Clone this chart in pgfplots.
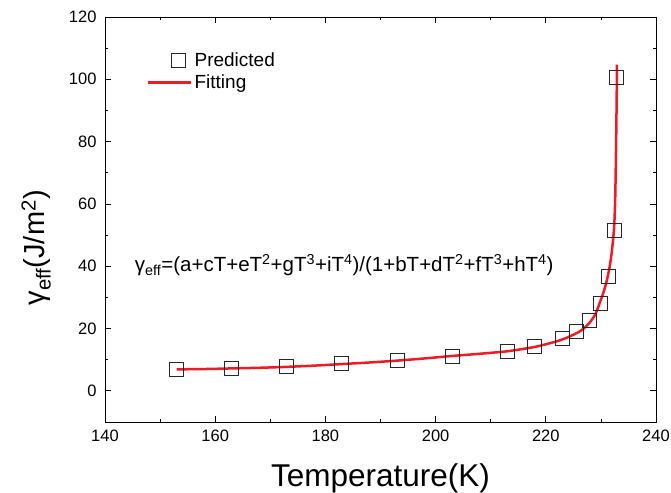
\documentclass[border=0pt]{standalone}
\usepackage{fontspec}
\setmainfont{Liberation Sans}
\usepackage{pgfplots}
\pgfplotsset{compat=1.18}
\definecolor{fitred}{RGB}{237,28,36}
\pgfplotsset{
  predlegend/.style={legend image code/.code={\path[draw=none] (0pt,0pt) -- (43pt,0pt); \path[##1, draw=none] plot coordinates {(30pt,0pt)};}},
  fitlegend/.style={legend image code/.code={\draw[##1] (0pt,0pt) -- (43pt,0pt);}},
}
\begin{document}
\begin{tikzpicture}
\begin{axis}[
  at={(0,0)}, anchor=south west,
  scale only axis, width=551pt, height=405pt,
  xmin=140, xmax=240, ymin=-10, ymax=120,
  xtick={140,160,...,240}, ytick={0,20,...,120},
  minor x tick num=1, minor y tick num=1,
  tick align=inside,
  major tick length=6pt, minor tick length=3.5pt,
  axis line style={line width=0.9pt},
  every tick/.style={black, line width=0.8pt},
  /pgf/number format/assume math mode=true,
  ticklabel style={font=\fontsize{16.5}{19}\selectfont},
  xticklabel style={yshift=-4pt},
  yticklabel style={xshift=-5pt},
  xlabel={Temperature(K)},
  ylabel={γ\textsubscript{eff}(J/m\textsuperscript{2})},
  xlabel style={font=\fontsize{31.5}{34}\selectfont, at={(axis description cs:0.5,0)}, anchor=base, yshift=-64pt},
  ylabel style={font=\fontsize{29}{34}\selectfont, at={(axis description cs:-0.125,0.43)}, anchor=center, rotate=0},
  legend style={draw=none, fill=none, at={(rel axis cs:0.076,0.918)}, anchor=north west, inner sep=0pt, font=\fontsize{19}{22}\selectfont, row sep=3pt, nodes={inner sep=2pt}},
  legend cell align=left,
]
\addplot[only marks, mark=square, mark size=7pt, mark options={line width=0.9pt, draw=black!85, fill=none}, predlegend]
coordinates {
(153,6.97) (163,7.2) (173,7.7) (183,8.7) (193,9.8) (203,11.1) (213,12.8) (218,14.2)
(223,16.9) (225.5,19.0) (228,22.7) (230,28.0) (231.4,36.6) (232.4,51.6) (232.9,100.7)
};
\addlegendentry{Predicted}
\addplot[fitred, line width=2.5pt, smooth, tension=0.4, no marks, fitlegend]
coordinates {
(153,6.9) (158,7.0) (163,7.2) (168,7.4) (173,7.7) (178,8.1) (183,8.6) (188,9.1)
(193,9.7) (198,10.4) (203,11.2) (208,11.9) (213,12.7) (218,14.1) (222,15.9) (224,17.2)
(226,18.9) (227,20.2) (228,22.0) (229,24.6) (229.8,28.3) (230.5,31.8) (231.1,35.6)
(231.6,40) (232,45) (232.4,52.5) (232.6,62) (232.75,78) (232.85,92) (232.92,104.7)
};
\addlegendentry{Fitting}
\node[anchor=base west, font=\fontsize{20.5}{24}\selectfont, inner sep=0pt] at (axis cs:145.4,38.2)
  {γ\textsubscript{eff}=(a+cT+eT\textsuperscript{2}+gT\textsuperscript{3}+iT\textsuperscript{4})/(1+bT+dT\textsuperscript{2}+fT\textsuperscript{3}+hT\textsuperscript{4})};
\end{axis}
\pgfresetboundingbox
\path[use as bounding box] (-105pt,-70pt) rectangle (566pt,422pt);
\end{tikzpicture}
\end{document}
